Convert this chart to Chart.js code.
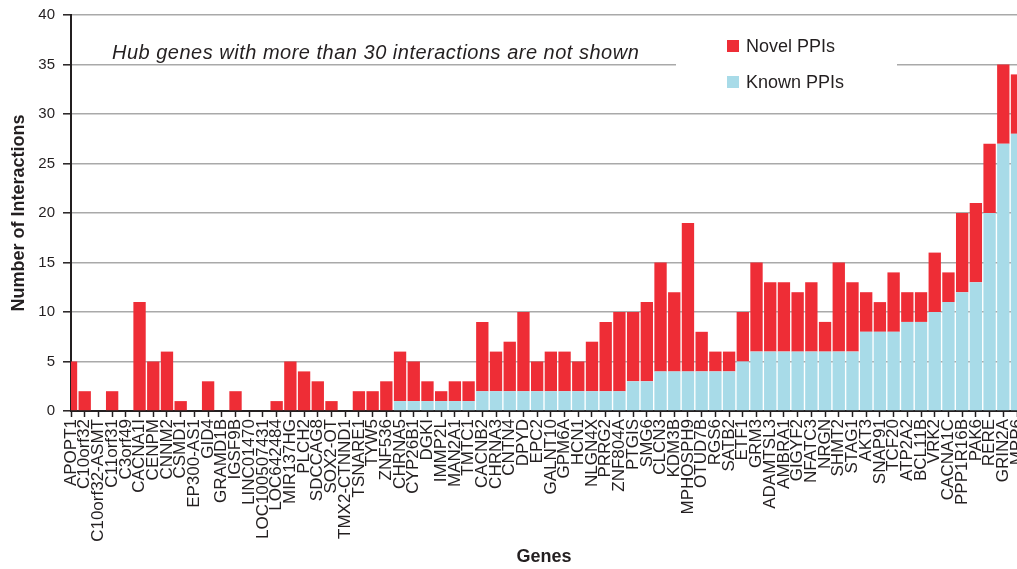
<!DOCTYPE html>
<html>
<head>
<meta charset="utf-8">
<script src="https://cdn.jsdelivr.net/npm/chart.js@4/dist/chart.umd.min.js"></script>
<style>
  html, body { margin: 0; padding: 0; background: #fff; }
  #wrap { width: 1017px; height: 569px; position: relative; }
</style>
</head>
<body>
<div id="wrap"><canvas id="chart"></canvas></div>
<script>
// Genes, ordered by number of known interactions
const genes = [
  'APOPT1', 'C10orf32', 'C10orf32-ASMT', 'C11orf31', 'C3orf49', 'CACNA1I', 'CENPM', 'CNNM2',
  'CSMD1', 'EP300-AS1', 'GID4', 'GRAMD1B', 'IGSF9B', 'LINC01470', 'LOC100507431', 'LOC642484',
  'MIR137HG', 'PLCH2', 'SDCCAG8', 'SOX2-OT', 'TMX2-CTNND1', 'TSNARE1', 'TYW5', 'ZNF536',
  'CHRNA5', 'CYP26B1', 'DGKI', 'IMMP2L', 'MAN2A1', 'TMTC1', 'CACNB2', 'CHRNA3',
  'CNTN4', 'DPYD', 'EPC2', 'GALNT10', 'GPM6A', 'HCN1', 'NLGN4X', 'PRRG2',
  'ZNF804A', 'PTGIS', 'SMG6', 'CLCN3', 'KDM3B', 'MPHOSPH9', 'OTUD7B', 'RGS6',
  'SATB2', 'ETF1', 'GRM3', 'ADAMTSL3', 'AMBRA1', 'GIGYF2', 'NFATC3', 'NRGN',
  'SHMT2', 'STAG1', 'AKT3', 'SNAP91', 'TCF20', 'ATP2A2', 'BCL11B', 'VRK2',
  'CACNA1C', 'PPP1R16B', 'PAK6', 'RERE', 'GRIN2A', 'MPP6'
];

// Previously known protein-protein interactions per gene
const knownPPIs = [
  0, 0, 0, 0, 0, 0, 0, 0,
  0, 0, 0, 0, 0, 0, 0, 0,
  0, 0, 0, 0, 0, 0, 0, 0,
  1, 1, 1, 1, 1, 1, 2, 2,
  2, 2, 2, 2, 2, 2, 2, 2,
  2, 3, 3, 4, 4, 4, 4, 4,
  4, 5, 6, 6, 6, 6, 6, 6,
  6, 6, 8, 8, 8, 9, 9, 10,
  11, 12, 13, 20, 27, 28
];

// Novel protein-protein interactions per gene
const novelPPIs = [
  5, 2, 0, 2, 0, 11, 5, 6,
  1, 0, 3, 0, 2, 0, 0, 1,
  5, 4, 3, 1, 0, 2, 2, 3,
  5, 4, 2, 1, 2, 2, 7, 4,
  5, 8, 3, 4, 4, 3, 5, 7,
  8, 7, 8, 11, 8, 15, 4, 2,
  2, 5, 9, 7, 7, 6, 7, 3,
  9, 7, 4, 3, 6, 3, 3, 6,
  3, 8, 8, 7, 8, 6
];

const seriesLabels = ['Novel PPIs', 'Known PPIs'];
const seriesColors = ['#ee2d36', '#a8dbe8'];
const noteText = 'Hub genes with more than 30 interactions are not shown';
const yMin = 0, yMax = 40, yStep = 5;

const ink = '#231f20';
const fontFamily = "'Liberation Sans', Arial, Helvetica, sans-serif";
Chart.defaults.font.family = fontFamily;
Chart.defaults.color = ink;

// Note text and the floating key, drawn over a white panel
const overlay = {
  id: 'overlay',
  afterDraw(chart) {
    const ctx = chart.ctx;
    ctx.save();
    ctx.fillStyle = '#fff';
    ctx.fillRect(676, 22, 221, 80);

    ctx.fillStyle = ink;
    ctx.font = 'italic 20px ' + fontFamily;
    ctx.textBaseline = 'alphabetic';
    ctx.textAlign = 'left';
    if ('letterSpacing' in ctx) ctx.letterSpacing = '0.5px';
    ctx.fillText(noteText, 112, 59);
    if ('letterSpacing' in ctx) ctx.letterSpacing = '0px';

    ctx.font = '18px ' + fontFamily;
    ctx.textBaseline = 'middle';
    const rows = [46, 82];
    chart.data.datasets.slice().reverse().forEach((ds, i) => {
      const y = rows[i];
      ctx.fillStyle = ds.backgroundColor;
      ctx.fillRect(727, y - 6, 12, 12);
      ctx.fillStyle = ink;
      ctx.fillText(ds.label, 746, y + 1);
    });
    ctx.restore();
  }
};

new Chart(document.getElementById('chart'), {
  type: 'bar',
  data: {
    labels: genes,
    datasets: [
      {
        label: seriesLabels[1],
        data: knownPPIs,
        backgroundColor: seriesColors[1],
        borderWidth: 0,
        categoryPercentage: 0.9,
        barPercentage: 1,
        clip: 0
      },
      {
        label: seriesLabels[0],
        data: novelPPIs,
        backgroundColor: seriesColors[0],
        borderWidth: 0,
        categoryPercentage: 0.9,
        barPercentage: 1,
        clip: 0
      }
    ]
  },
  options: {
    responsive: true,
    maintainAspectRatio: false,
    animation: false,
    layout: { padding: { top: 15, right: 0, bottom: 0, left: 0 } },
    plugins: {
      legend: { display: false },
      tooltip: { enabled: false }
    },
    scales: {
      x: {
        stacked: true,
        offset: false,
        grid: {
          offset: false,
          drawOnChartArea: false,
          drawTicks: true,
          tickLength: 6,
          tickColor: ink,
          tickWidth: 1.5
        },
        border: { color: ink, width: 2 },
        ticks: {
          autoSkip: false,
          minRotation: 90,
          maxRotation: 90,
          padding: 2,
          color: ink,
          font: { size: 17 }
        },
        title: {
          display: true,
          text: 'Genes',
          color: ink,
          font: { size: 18, weight: 'bold' },
          padding: { top: 0, bottom: 1 }
        },
        afterFit(scale) {
          scale.height = 158;
          scale.paddingLeft = 0;
          scale.paddingRight = 0;
        }
      },
      y: {
        stacked: true,
        min: yMin,
        max: yMax,
        ticks: {
          stepSize: yStep,
          padding: 8,
          color: ink,
          font: { size: 15 }
        },
        grid: {
          color: '#a9a9a9',
          lineWidth: 1.6,
          tickLength: 8,
          tickColor: ink,
          tickWidth: 1.5
        },
        border: { color: ink, width: 2 },
        title: {
          display: true,
          text: 'Number of Interactions',
          color: ink,
          font: { size: 18, weight: 'bold' },
          padding: { top: 8, bottom: 0 }
        },
        afterFit(scale) {
          scale.width = 71;
          scale.paddingTop = 0;
          scale.paddingBottom = 0;
        }
      }
    }
  },
  plugins: [overlay]
});
</script>
</body>
</html>
